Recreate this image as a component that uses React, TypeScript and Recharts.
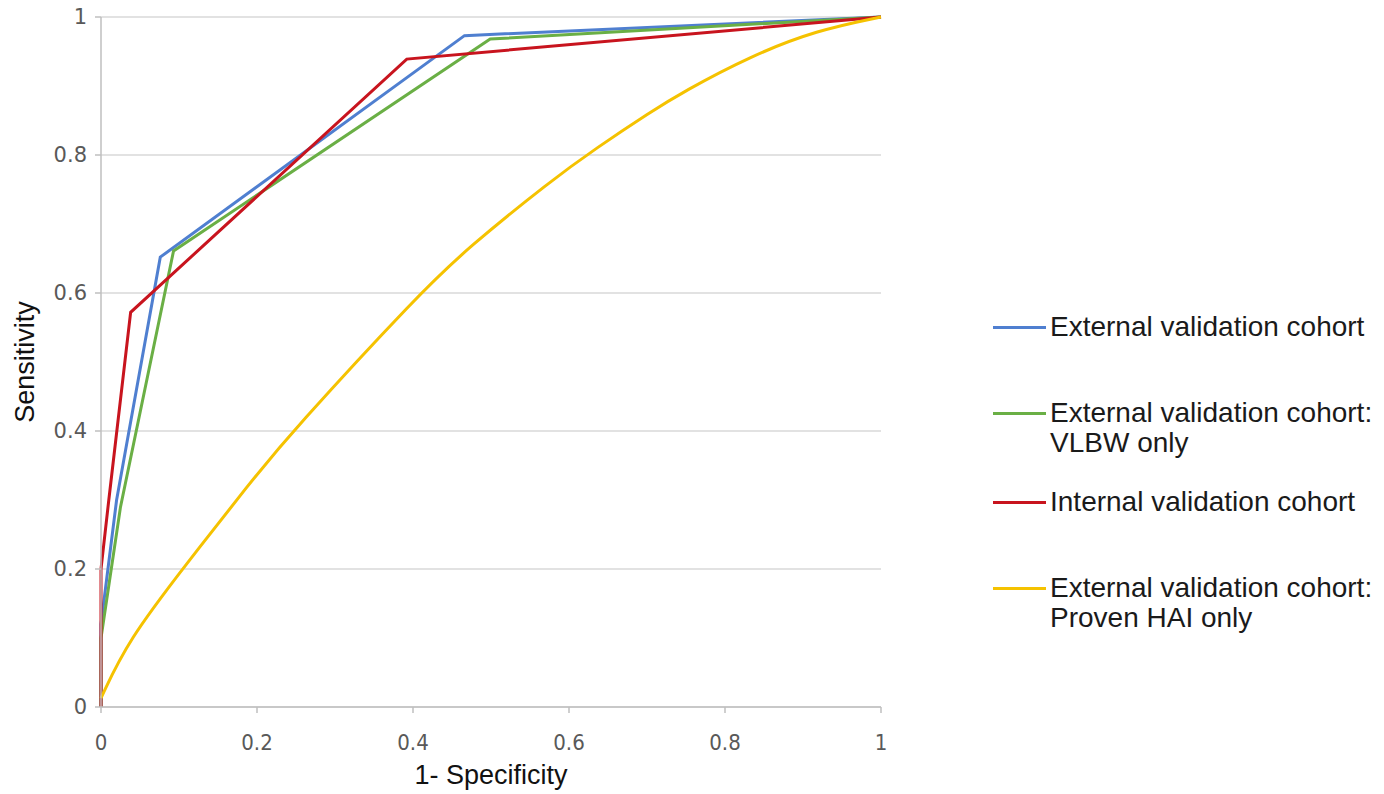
import React from "react";
import {
  LineChart, Line, XAxis, YAxis, CartesianGrid,
} from "recharts";

// ROC points: 1 - specificity (x) and sensitivity (y)
const externalFpr = [0, 0, 0.02, 0.076, 0.466, 1];
const externalTpr = [0, 0.12, 0.3, 0.652, 0.973, 1];

const vlbwFpr = [0, 0, 0.025, 0.093, 0.499, 1];
const vlbwTpr = [0, 0.1, 0.29, 0.661, 0.968, 1];

const internalFpr = [0, 0, 0.01, 0.038, 0.392, 1];
const internalTpr = [0, 0.2, 0.3, 0.572, 0.939, 1];

const haiFpr = [0, 0.035, 0.108, 0.191, 0.244, 0.409, 0.47, 0.576, 0.635, 0.704, 0.747, 0.832, 0.918, 1];
const haiTpr = [0.013, 0.097, 0.205, 0.325, 0.398, 0.6, 0.665, 0.762, 0.81, 0.862, 0.892, 0.943, 0.981, 1];

const xTicks = [0, 0.2, 0.4, 0.6, 0.8, 1];
const yTicks = [0, 0.2, 0.4, 0.6, 0.8, 1];

const toPoints = (xs: number[], ys: number[]) => xs.map((x, i) => ({ x, y: ys[i] }));

const series = [
  { key: "ext", color: "#4f7fd0", type: "linear", lines: ["External validation cohort"], data: toPoints(externalFpr, externalTpr) },
  { key: "vlbw", color: "#6aaf45", type: "linear", lines: ["External validation cohort:", "VLBW only"], data: toPoints(vlbwFpr, vlbwTpr) },
  { key: "int", color: "#c8141e", type: "linear", lines: ["Internal validation cohort"], data: toPoints(internalFpr, internalTpr) },
  { key: "hai", color: "#f5c200", type: "basis", lines: ["External validation cohort:", "Proven HAI only"], data: toPoints(haiFpr, haiTpr) },
];

const legendTops = [0, 86, 175, 261];

function RocLegend() {
  return (
    <div style={{ position: "absolute", left: 990, top: 308, width: 394, height: 330, fontFamily: "'Liberation Sans', Arial, sans-serif" }}>
      {series.map((s, i) => (
        <div key={s.key} style={{ position: "absolute", left: 0, top: legendTops[i] }}>
          <div style={{ position: "absolute", left: 3, top: 18, width: 53, height: 2.5, background: s.color }} />
          {s.lines.map((t, j) => (
            <div key={j} style={{ position: "absolute", left: 60, top: j * 30, fontSize: 28, lineHeight: "38px", color: "#1a1a1a", whiteSpace: "nowrap" }}>
              {t}
            </div>
          ))}
        </div>
      ))}
    </div>
  );
}

export default function App() {
  return (
    <div style={{ position: "absolute", left: 0, top: 0, width: 1384, height: 794, background: "#fff" }}>
      <LineChart width={1384} height={794} margin={{ top: 17, right: 503, left: 0, bottom: 0 }}>
        <CartesianGrid horizontal vertical={false} stroke="#d9d9d9" strokeWidth={1.5} />
        <XAxis
          type="number"
          dataKey="x"
          domain={[0, 1]}
          ticks={xTicks}
          tickFormatter={(v) => String(v)}
          height={87}
          stroke="#bfbfbf"
          strokeWidth={1.5}
          tickSize={6}
          tickMargin={21}
          tick={{ fill: "#595959", fontSize: 22, fontFamily: "'Liberation Sans Narrow', 'DejaVu Sans Condensed', 'Arial Narrow', sans-serif" }}
          allowDuplicatedCategory={false}
          label={{ value: "1- Specificity", position: "insideBottom", offset: 10, fill: "#111", fontSize: 27, fontFamily: "'Liberation Sans', Arial, sans-serif" }}
        />
        <YAxis
          type="number"
          domain={[0, 1]}
          ticks={yTicks}
          tickFormatter={(v) => String(v)}
          width={101}
          stroke="#bfbfbf"
          strokeWidth={1.5}
          tickSize={6}
          tickMargin={8}
          tick={{ fill: "#595959", fontSize: 21, fontFamily: "'DejaVu Sans', sans-serif" }}
          label={{ value: "Sensitivity", angle: -90, position: "insideLeft", offset: 24, fill: "#111", fontSize: 27, fontFamily: "'Liberation Sans', Arial, sans-serif", style: { textAnchor: "middle" } }}
        />
        {series.map((s) => (
          <Line
            key={s.key}
            data={s.data}
            dataKey="y"
            type={s.type as any}
            stroke={s.color}
            strokeWidth={3}
            dot={false}
            activeDot={false}
            isAnimationActive={false}
          />
        ))}
      </LineChart>
      <RocLegend />
    </div>
  );
}
